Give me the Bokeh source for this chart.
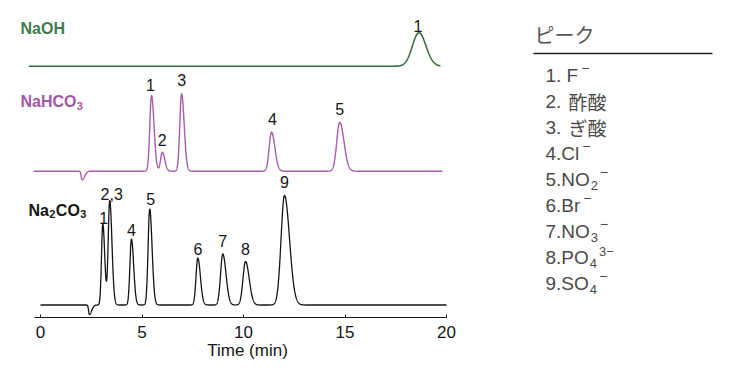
import numpy as np
from bokeh.plotting import figure
from bokeh.layouts import row
from bokeh.models import Range1d, FixedTicker
from bokeh.core.properties import value
from bokeh.embed import file_html
from bokeh.resources import INLINE

# ---------------- data ----------------
# retention time (min), peak height (signal units), peak sigma (min)
naoh_rt = [18.64]
naoh_h = [33.4]
naoh_sigma = [0.32]
naoh_labels = ["1"]
naoh_span = [-0.58, 19.7]

nahco3_rt = [2.05, 5.47, 6.00, 6.95, 11.38, 14.74]
nahco3_h = [-8.6, 75.7, 19.0, 77.4, 39.0, 49.0]
nahco3_sigma = [0.045, 0.085, 0.085, 0.088, 0.115, 0.145]
nahco3_labels = ["", "1", "2", "3", "4", "5"]
nahco3_span = [-0.34, 19.8]

na2co3_rt = [2.41, 3.07, 3.41, 4.48, 5.38, 7.75, 8.98, 10.10, 12.02]
na2co3_h = [-9.5, 81.0, 104.5, 66.0, 96.0, 47.0, 51.0, 43.5, 109.5]
na2co3_sigma = [0.04, 0.065, 0.075, 0.075, 0.08, 0.088, 0.11, 0.125, 0.17]
na2co3_labels = ["", "1", "2,3", "4", "5", "6", "7", "8", "9"]
na2co3_span = [0.0, 20.0]

trace_names = ["NaOH", "NaHCO3", "Na2CO3"]
x_ticks = [0, 5, 10, 15, 20]

legend_title = "ピーク"
legend_items = [
    [("1. F", "n"), ("−", "sup")],
    [("2. ", "n"), ("酢酸", "cjk")],
    [("3. ", "n"), ("ぎ酸", "cjk")],
    [("4.Cl", "n"), ("−", "sup")],
    [("5.NO", "n"), ("2", "sub"), ("−", "sup")],
    [("6.Br", "n"), ("−", "sup")],
    [("7.NO", "n"), ("3", "sub"), ("−", "sup")],
    [("8.PO", "n"), ("4", "sub"), ("3−", "sup")],
    [("9.SO", "n"), ("4", "sub"), ("−", "sup")],
]

# ---------------- layout / style ----------------
PX0, SCALE = 40.0, 20.3          # pixel of t=0, px per minute
AXIS_Y = 317.0                    # pixel row of the x axis line
LEFT_W = 494                      # chart panel width (axis label centred at 247)
RIGHT_W = 730 - LEFT_W            # legend panel width
FRAME_H = 317
def xd(px):
    return (px - PX0) / SCALE
def yd(py):
    return AXIS_Y - py

offsets = [yd(65.7), yd(170.7), yd(304.5)]  # baselines of the three traces
tails = [1.1, 1.45, 1.45]
line_colors = ["#3c6e48", "#a85cad", "#151515"]
text_colors = ["#3f7c4f", "#a356a6", "#151515"]
line_widths = [1.6, 1.4, 1.3]
# distance (px) from peak top up to the centre of its number label
label_gaps = [[7.3], [0, 11, 12.7, 13.8, 13.7, 13.7],
              [0, 6.3, 7, 9.3, 10.3, 8.6, 12.8, 12.3, 13.5]]
label_dx = [[-1], [0, -1, 0, 0, 1, 0], [0, 1, 2, 0, 1, 0, 0, 0, 0]]

FONT = "Liberation Sans"
CJK = "Noto Sans CJK JP"

AW = {'0': .556, '1': .556, '2': .556, '3': .556, '4': .556, '5': .556,
      '6': .556, '7': .556, '8': .556, '9': .556, '.': .278, ' ': .278,
      'F': .611, 'C': .722, 'l': .222, 'N': .722, 'O': .778, 'B': .667,
      'r': .333, 'P': .667, 'S': .667, 'a': .556, 'H': .722, '−': .584}
def tw(s, size):
    return sum(AW.get(c, 0.6) for c in s) * size

x0 = -PX0 / SCALE
x1 = x0 + LEFT_W / SCALE

p = figure(frame_width=LEFT_W, frame_height=FRAME_H, x_range=Range1d(x0, x1),
           y_range=Range1d(0, FRAME_H), output_backend="svg",
           toolbar_location=None, min_border=0, y_axis_location=None)
p.outline_line_color = None
p.grid.visible = False
p.background_fill_color = "white"
p.border_fill_color = "white"

def peak(t, rt, h, s, tail):
    sig = np.where(t < rt, s, s * tail)
    return h * np.exp(-0.5 * ((t - rt) / sig) ** 2)

sets = [
    (naoh_rt, naoh_h, naoh_sigma, naoh_labels, naoh_span),
    (nahco3_rt, nahco3_h, nahco3_sigma, nahco3_labels, nahco3_span),
    (na2co3_rt, na2co3_h, na2co3_sigma, na2co3_labels, na2co3_span),
]

for k, (rt, h, sg, labs, span) in enumerate(sets):
    t = np.arange(span[0], span[1] + 1e-9, 0.005)
    y = np.full_like(t, offsets[k])
    for r, hh, s in zip(rt, h, sg):
        tail = tails[k] if hh > 0 else 2.8
        y = y + peak(t, r, hh, s, tail)
    p.line(t, y, line_color=line_colors[k], line_width=line_widths[k])
    for i, (r, hh, lab) in enumerate(zip(rt, h, labs)):
        if not lab:
            continue
        p.text(x=[r], y=[offsets[k] + hh], text=[lab], text_align="center",
               text_baseline="middle", text_font=value(FONT),
               text_font_size="16px", text_color="#151515",
               x_offset=label_dx[k][i], y_offset=-label_gaps[k][i])

# trace names (bold, with subscripts)
BW = {'N': .722, 'a': .556, 'O': .778, 'H': .722, 'C': .722, '2': .556, '3': .556}
def bw(s, size):
    return sum(BW.get(c, .6) for c in s) * size
name_parts = [[("NaOH", 0)], [("NaHCO", 0), ("3", 1)], [("Na", 0), ("2", 1), ("CO", 0), ("3", 1)]]
name_x = [20, 20, 28]
name_dy = [-37.7, -69.4, -95.0]  # label centre relative to trace baseline (px, up)
for k, parts in enumerate(name_parts):
    dx = 0.0
    for txt, sub in parts:
        size = 11 if sub else 16
        p.text(x=[xd(name_x[k])], y=[offsets[k] - name_dy[k]], text=[txt],
               text_align="left", text_baseline="middle", text_font=value(FONT),
               text_font_size=f"{size}px", text_font_style="bold",
               text_color=text_colors[k], x_offset=dx, y_offset=4 if sub else 0)
        dx += bw(txt, size) + (0.5 if sub else 0.3)

ax = p.xaxis[0]
ax.ticker = FixedTicker(ticks=x_ticks)
ax.bounds = (-0.3, 20)
ax.minor_tick_line_color = None
ax.major_tick_in = 3
ax.major_tick_out = 0
ax.axis_line_color = "#151515"
ax.major_tick_line_color = "#151515"
ax.major_label_text_font = FONT
ax.major_label_text_font_size = "17px"
ax.major_label_text_color = "#151515"
ax.major_label_standoff = 8
ax.axis_label = "Time (min)"
ax.axis_label_text_font = FONT
ax.axis_label_text_font_size = "17px"
ax.axis_label_text_font_style = "normal"
ax.axis_label_text_color = "#151515"
ax.axis_label_standoff = 0

# ---------------- legend panel (pixel coordinates) ----------------
q = figure(frame_width=RIGHT_W, frame_height=FRAME_H,
           x_range=Range1d(LEFT_W, 730), y_range=Range1d(0, FRAME_H),
           output_backend="svg", toolbar_location=None, min_border=0,
           x_axis_location=None, y_axis_location=None)
q.outline_line_color = None
q.grid.visible = False
q.background_fill_color = "white"
q.border_fill_color = "white"

q.text(x=[534], y=[yd(34)], text=[legend_title], text_align="left",
       text_baseline="middle", text_font=value(CJK), text_font_size="20px",
       text_color="#555555")
q.segment(x0=[533], y0=[yd(53)], x1=[712], y1=[yd(53)],
          line_color="#222222", line_width=1.5)
LS = 19
for i, parts in enumerate(legend_items):
    yy = yd(75 + 26 * i)
    dx = 0.0
    prev = "n"
    for txt, kind in parts:
        if kind == "n":
            font, size, oy = FONT, LS, 0
        elif kind == "cjk":
            font, size, oy = CJK, 19, 0
            dx = 568 - 545
        elif kind == "sub":
            font, size, oy = FONT, 13, 6
            dx += 1
        else:
            font, size, oy = FONT, 14, -8
            dx += 3 if prev == "n" else 2
            if txt.startswith("3"):
                size = 13
                oy = -6
        q.text(x=[545], y=[yy], text=[txt], text_align="left",
               text_baseline="middle", text_font=value(font),
               text_font_size=f"{size}px", text_color="#4a4a4a",
               x_offset=dx, y_offset=oy)
        dx += tw(txt, size) if kind != "cjk" else size * len(txt)
        prev = kind

layout = row(p, q)
open("out.html", "w").write(file_html(layout, INLINE))
